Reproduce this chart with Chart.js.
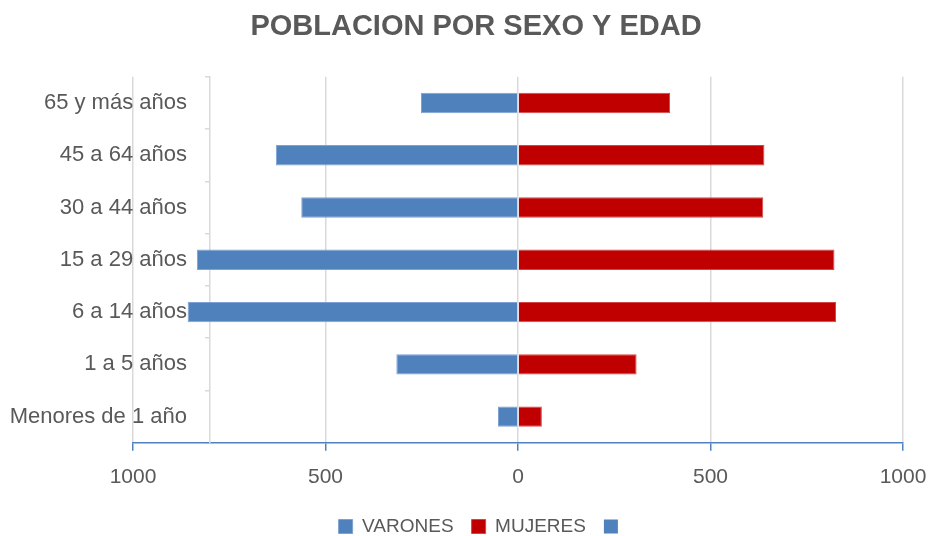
<!DOCTYPE html>
<html>
<head>
<meta charset="utf-8">
<script src="https://cdn.jsdelivr.net/npm/chart.js@4"></script>
<style>
html,body{margin:0;padding:0;background:#fff;}
#wrap{width:931px;height:536px;}
</style>
</head>
<body>
<div id="wrap"><canvas id="c" width="931" height="536"></canvas></div>
<script>
const categories = ['65 y más años','45 a 64 años','30 a 44 años','15 a 29 años','6 a 14 años','1 a 5 años','Menores de 1 año'];
const varones = [252, 629, 563, 834, 858, 316, 52];
const mujeres = [395, 640, 637, 822, 826, 308, 62];
const xTicks = [-1000, -500, 0, 500, 1000];
const seriesNames = ['VARONES', 'MUJERES', ''];

const TXT = '#595959';
const BLUE = '#4F81BD';
const RED = '#C00000';
const GRID = '#D9D9D9';
const FONT = 'Liberation Sans, Arial, sans-serif';
const LABEL_SIZE = 22;

// measure widest category label so the right-aligned labels end just left of the y-axis line
const mctx = document.createElement('canvas').getContext('2d');
mctx.font = LABEL_SIZE + 'px ' + FONT;
const widest = Math.max(...categories.map(c => mctx.measureText(c).width));
const AXIS_W = 84;           // width given to the label axis
const LABEL_END_OFFSET = 54; // labels end this far right of the chart-area left edge
const LEGEND_SHIFT = 7;      // nudge legend row to the right

const legendNudge = {
  id: 'legendNudge',
  afterLayout(chart) {
    if (chart.legend) { chart.legend.left += LEGEND_SHIFT; chart.legend.right += LEGEND_SHIFT; }
  }
};

new Chart(document.getElementById('c'), {
  type: 'bar',
  data: {
    labels: categories,
    datasets: [
      {label: seriesNames[0], data: varones.map(v => -v), backgroundColor: BLUE, borderColor: '#7EA2D3', borderWidth: 1, barPercentage: 0.39, categoryPercentage: 1, yAxisID: 'y'},
      {label: seriesNames[1], data: mujeres, backgroundColor: RED, borderColor: '#D64545', borderWidth: 1, barPercentage: 0.39, categoryPercentage: 1, yAxisID: 'y'},
      {label: seriesNames[2], data: [], backgroundColor: BLUE, yAxisID: 'y'}
    ]
  },
  plugins: [legendNudge],
  options: {
    indexAxis: 'y',
    responsive: false,
    animation: false,
    layout: {padding: {left: 49, right: 28, top: 0, bottom: -10}},
    plugins: {
      title: {
        display: true,
        text: 'POBLACION POR SEXO Y EDAD',
        color: TXT,
        font: {family: FONT, size: 29, weight: 'bold'},
        padding: {top: 10, bottom: 32}
      },
      legend: {
        position: 'bottom',
        labels: {
          color: TXT,
          font: {family: FONT, size: 19},
          boxWidth: 14,
          boxHeight: 14,
          padding: 18
        }
      },
      tooltip: {enabled: false}
    },
    scales: {
      x: {
        type: 'linear',
        stacked: true,
        min: -1000,
        max: 1000,
        afterBuildTicks: (s) => { s.ticks = xTicks.map(v => ({value: v})); },
        ticks: {
          color: TXT,
          font: {family: FONT, size: 21},
          padding: 14,
          callback: (v) => String(Math.abs(v))
        },
        grid: {color: GRID, lineWidth: 1.5, tickColor: BLUE, tickLength: 8},
        border: {color: BLUE, width: 1.5},
        afterFit: (s) => { s.height -= 5; s.paddingRight = 0; s.paddingLeft = 0; }
      },
      y: {
        type: 'category',
        stacked: true,
        position: 'left',
        offset: true,
        grid: {display: false, drawTicks: false, offset: true},
        border: {display: false},
        ticks: {
          color: TXT,
          font: {family: FONT, size: LABEL_SIZE},
          mirror: true,
          crossAlign: 'far',
          padding: LABEL_END_OFFSET - widest
        },
        afterFit: (s) => { s.width = AXIS_W; }
      },
      y2: {
        type: 'category',
        labels: categories,
        position: {x: -800},
        offset: true,
        z: 1,
        grid: {color: GRID, lineWidth: 1.5, drawOnChartArea: false, tickLength: 4, offset: true},
        border: {color: GRID, width: 1.5},
        ticks: {display: false}
      }
    }
  }
});
</script>
</body>
</html>
